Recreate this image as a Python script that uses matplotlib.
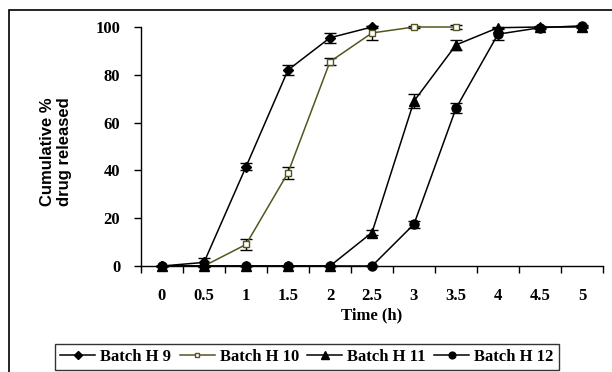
import numpy as np
import matplotlib
matplotlib.use("Agg")
import matplotlib.pyplot as plt
from matplotlib.patches import Rectangle
from matplotlib.lines import Line2D

time_labels = ["0", "0.5", "1", "1.5", "2", "2.5", "3", "3.5", "4", "4.5", "5"]

h9 = [0, 1.5, 41.5, 82, 95.5, 100]
h9_err = [0, 2, 1.5, 2, 2, 0.5]

h10 = [0, 0, 9, 39, 85.5, 97.5, 100, 100]
h10_err = [0, 0, 2.5, 2.5, 1.5, 3, 0.5, 1]

h11 = [0, 0, 0, 0, 0, 14, 69, 92.5, 99.7, 100, 100]
h11_err = [0, 0, 0, 0, 0, 1, 3, 2, 0.5, 0.5, 0.5]

h12 = [0, 0, 0, 0, 0, 0, 17.5, 66, 97, 99.7, 100.5]
h12_err = [0, 0, 0, 0, 0, 0, 1.5, 2, 2.5, 0.5, 0.5]

serif = "Liberation Serif"
sans = "Liberation Sans"
olive = "#55551f"

fig = plt.figure(figsize=(6.12, 3.72), dpi=100)
ax = fig.add_axes([141 / 612, 1 - 266 / 372, 462 / 612, 239 / 372])

fig.patches.append(Rectangle((9 / 612, -0.1), 1.2, 1 - 10 / 372 + 0.1,
                             transform=fig.transFigure, fill=False,
                             edgecolor="black", linewidth=1.2))

series = [
    ("Batch H 9", h9, h9_err, dict(color="black", marker="D", markersize=5.5,
                                   markerfacecolor="black", markeredgecolor="black")),
    ("Batch H 10", h10, h10_err, dict(color=olive, marker="s", markersize=4,
                                      markerfacecolor="white", markeredgecolor=olive)),
    ("Batch H 11", h11, h11_err, dict(color="black", marker="^", markersize=7,
                                      markerfacecolor="black", markeredgecolor="black")),
    ("Batch H 12", h12, h12_err, dict(color="black", marker="o", markersize=6.5,
                                      markerfacecolor="black", markeredgecolor="black")),
]

handles = []
for name, vals, errs, style in series:
    x = np.arange(len(vals))
    ax.errorbar(x, vals, yerr=errs, ecolor="black", elinewidth=1, capsize=4,
                capthick=1, linewidth=1.1, clip_on=False, zorder=3, **style)
    leg_style = dict(style)
    leg_style["markersize"] = style["markersize"] * 0.75
    handles.append(Line2D([], [], linewidth=1.1, label=name, **leg_style))

ax.set_xlim(-0.5, 10.5)
ax.set_ylim(0, 100)
ax.set_xticks(np.arange(11))
ax.set_xticklabels(time_labels, fontfamily=serif, fontweight="bold", fontsize=12)
ax.set_xticks(np.arange(-0.5, 11, 1), minor=True)
ax.tick_params(axis="x", which="major", length=0, pad=16)
ax.tick_params(axis="x", which="minor", length=5, direction="out", width=1)
ax.set_yticks(np.arange(0, 101, 20))
ax.set_yticklabels([str(v) for v in range(0, 101, 20)], fontfamily=serif,
                   fontweight="bold", fontsize=12)
ax.tick_params(axis="y", length=5, direction="out", width=1, pad=10)

for s in ["top", "right"]:
    ax.spines[s].set_visible(False)
for s in ["left", "bottom"]:
    ax.spines[s].set_linewidth(1)

ax.set_xlabel("Time (h)", fontfamily=serif, fontweight="bold", fontsize=12, labelpad=2)
fig.text(56 / 612, 1 - 152 / 372, "Cumulative %\ndrug released", rotation=90,
         ha="center", va="center", fontfamily=sans, fontweight="bold",
         fontsize=12, linespacing=1.1)

leg = fig.legend(handles=handles, loc="center", bbox_to_anchor=(307 / 612, 1 - 357 / 372),
                 ncol=4, frameon=True, fancybox=False, edgecolor="black",
                 prop={"family": serif, "weight": "bold", "size": 12},
                 handlelength=2.1, handletextpad=0.3, columnspacing=0.5,
                 borderpad=0.3, borderaxespad=0)
leg.get_frame().set_linewidth(1)

fig.savefig("out.png", dpi=100)
